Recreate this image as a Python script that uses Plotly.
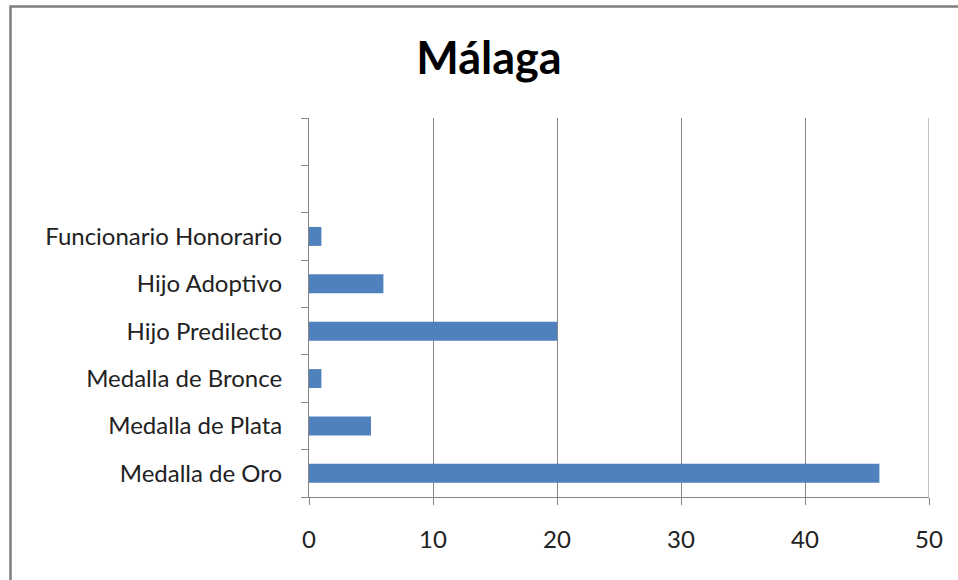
import plotly.graph_objects as go

categories = ["Medalla de Oro", "Medalla de Plata", "Medalla de Bronce",
              "Hijo Predilecto", "Hijo Adoptivo", "Funcionario Honorario", " ", "  "]
values = [46, 5, 1, 20, 6, 1, None, None]
x_ticks = [0, 10, 20, 30, 40, 50]

FONT = "Lato, 'Open Sans', sans-serif"

fig = go.Figure(go.Bar(
    y=categories, x=values, orientation="h",
    marker=dict(color="#4F81BD", line=dict(width=0)),
))

W, H = 958, 580
L, R, T, B = 309, 29, 118, 83
pw, ph = W - L - R, H - T - B

def px2paper_x(px):
    return (px - L) / pw

def px2paper_y(py):
    return (H - B - py) / ph

fig.update_layout(
    width=W, height=H,
    margin=dict(l=L, r=R, t=T, b=B, pad=0),
    paper_bgcolor="white", plot_bgcolor="white",
    bargap=0.6,
    showlegend=False,
    title=dict(text="<b>Málaga</b>", x=489 / W, xref="container", xanchor="center",
               y=1 - 58 / H, yref="container", yanchor="middle",
               font=dict(family=FONT, size=45, color="#000000")),
    font=dict(family=FONT, size=24, color="#222222"),
    xaxis=dict(range=[x_ticks[0], x_ticks[-1]], tickvals=x_ticks, showgrid=True,
               gridcolor="#868686", gridwidth=1, zeroline=False, showline=True,
               linecolor="#868686", ticks="outside", ticklen=7, tickcolor="#868686",
               ticklabelstandoff=14, tickfont=dict(family=FONT, size=24, color="#222222")),
    yaxis=dict(type="category", categoryorder="array", categoryarray=categories,
               showgrid=False, zeroline=False, showline=True, linecolor="#868686",
               ticks="outside", ticklen=7, tickcolor="#868686", tickson="boundaries",
               ticklabelstandoff=21, tickfont=dict(family=FONT, size=24, color="#222222")),
    shapes=[
        dict(type="rect", xref="paper", yref="paper",
             x0=px2paper_x(10.5), x1=px2paper_x(1000),
             y0=px2paper_y(620), y1=px2paper_y(6.5),
             line=dict(color="#7f7f7f", width=2.5), fillcolor="rgba(0,0,0,0)",
             layer="below"),
        dict(type="line", xref="x", yref="paper",
             x0=x_ticks[-1], x1=x_ticks[-1], y0=0, y1=1,
             line=dict(color="#868686", width=1), layer="below"),
    ],
)

fig.write_html("out.html", config={"displayModeBar": False},
               post_script="document.body.style.margin='0';document.body.style.overflow='hidden';")
